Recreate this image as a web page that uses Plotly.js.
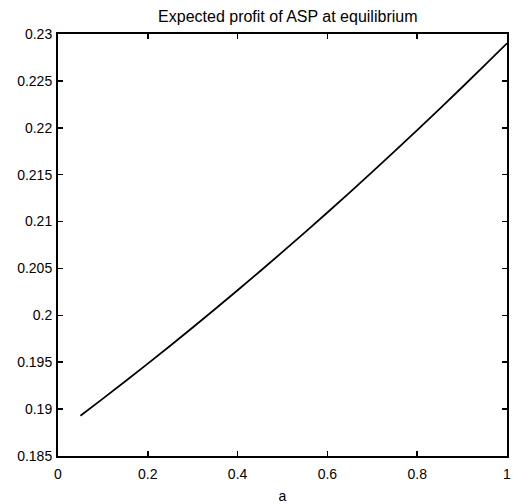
<!DOCTYPE html>
<html>
<head>
<meta charset="utf-8">
<script src="https://cdn.plot.ly/plotly-3.0.1.min.js"></script>
<style>html,body{margin:0;padding:0;background:#fff;}#chart{width:513px;height:504px;}</style>
</head>
<body>
<div id="chart"></div>
<script>
const aValues = [0.05,0.10,0.15,0.20,0.25,0.30,0.35,0.40,0.45,0.50,0.55,0.60,0.65,0.70,0.75,0.80,0.85,0.90,0.95,1.00];
const profitValues = [0.18930,0.19112,0.19297,0.19485,0.19676,0.19870,0.20067,0.20267,0.20470,0.20676,0.20885,0.21097,0.21312,0.21530,0.21751,0.21975,0.22202,0.22432,0.22665,0.22901];
const xTickVals = [0,0.2,0.4,0.6,0.8,1];
const xTickText = ["0","0.2","0.4","0.6","0.8","1"];
const yTickVals = [0.185,0.19,0.195,0.2,0.205,0.21,0.215,0.22,0.225,0.23];
const yTickText = ["0.185","0.19","0.195","0.2","0.205","0.21","0.215","0.22","0.225","0.23"];

const tickFont = {family: "Liberation Sans, Arial, sans-serif", size: 14, color: "#000"};
const titleFont = {family: "Liberation Sans, Arial, sans-serif", size: 16, color: "#000"};
const axisCommon = {
  showgrid: false, zeroline: false, showline: true, linecolor: "#000", linewidth: 2,
  mirror: "ticks", ticks: "inside", ticklen: 5, tickcolor: "#000", tickwidth: 1.5,
  tickfont: tickFont, tickmode: "array"
};
Plotly.newPlot("chart", [{
  x: aValues, y: profitValues, type: "scatter", mode: "lines",
  line: {color: "#000", width: 1.8, shape: "spline", smoothing: 1}, showlegend: false
}], {
  width: 513, height: 504,
  margin: {l: 58, r: 6, t: 34, b: 48},
  paper_bgcolor: "#fff", plot_bgcolor: "#fff",
  font: tickFont,
  title: {text: "Expected profit of ASP at equilibrium", font: titleFont, x: 0.561, xanchor: "center", y: 0.968, yanchor: "middle"},
  xaxis: Object.assign({}, axisCommon, {range: [0, 1], tickvals: xTickVals, ticktext: xTickText,
    ticklabelstandoff: 4,
    title: {text: "a", font: tickFont, standoff: 13}}),
  yaxis: Object.assign({}, axisCommon, {range: [0.185, 0.23], tickvals: yTickVals, ticktext: yTickText,
    ticklabelstandoff: 1})
}, {displayModeBar: false, staticPlot: true});
</script>
</body>
</html>
